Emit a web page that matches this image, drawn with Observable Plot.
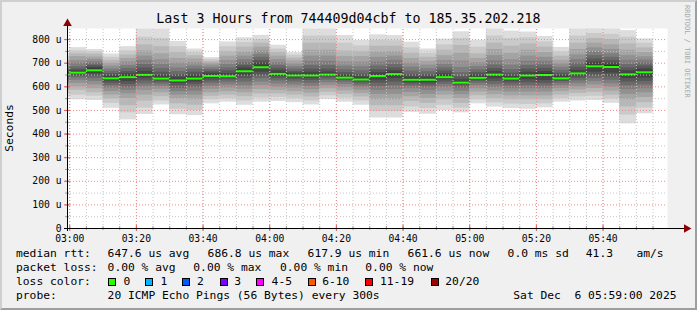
<!DOCTYPE html>
<html><head><meta charset="utf-8">
<script src="https://cdn.jsdelivr.net/npm/d3@7"></script>
<script src="https://cdn.jsdelivr.net/npm/@observablehq/plot@0.6"></script>
<style>
html,body{margin:0;padding:0;background:#f0f0f0;}
#wrap{position:relative;width:697px;height:310px;background:#f0f0f0;overflow:hidden;font-family:"DejaVu Sans Mono",monospace;color:#000;}
#chart svg{position:absolute;left:0;top:0;}
.t{position:absolute;white-space:pre;font-size:11.3px;line-height:14px;}
.box{position:absolute;width:8px;height:8px;box-sizing:border-box;border:1px solid #000;top:278px;}
#border{position:absolute;left:0;top:0;width:697px;height:310px;box-sizing:border-box;border-top:2px solid #cfcfcf;border-left:2px solid #cfcfcf;border-right:2px solid #9e9e9e;border-bottom:2px solid #9e9e9e;pointer-events:none;}
</style>
</head><body>
<div id="wrap">
  <div id="chart"></div>
  <div id="title" class="t" style="font-size:13.3px;left:0;width:697px;text-align:center;top:11px;line-height:16px;"></div>
  <div id="ylab" class="t" style="left:10px;top:128px;transform:translate(-50%,-50%) rotate(-90deg);"></div>
  <div id="wm" class="t" style="left:683px;top:5px;font-size:7px;line-height:8px;writing-mode:vertical-rl;color:#a8a8a8;"></div>
  <div id="legend"></div>
  <div id="border"></div>
</div>
<script>
// ---------- data ----------
const titleText = "Last 3 Hours from 744409d04cbf to 185.35.202.218";
const yLabel = "Seconds";
const watermark = "RRDTOOL / TOBI OETIKER";
const binStarts = ["02:55","03:00","03:05","03:10","03:15","03:20","03:25","03:30","03:35","03:40","03:45","03:50","03:55",
  "04:00","04:05","04:10","04:15","04:20","04:25","04:30","04:35","04:40","04:45","04:50","04:55",
  "05:00","05:05","05:10","05:15","05:20","05:25","05:30","05:35","05:40","05:45","05:50"];
// median rtt per 5-minute bin, microseconds
const medians = [652,660,670,636,641,651,635,627,635,646,645,666,683,
  655,648,648,652,639,631,646,654,630,630,641,617.9,
  638,652,635,648,650,636,657,686.8,684,653,661.6];
// 20 sorted ping times per bin, microseconds
const pingsSorted = [
  [555,570,585,598,610,620,630,638,645,650,655,660,667,675,685,695,705,715,728,740],
  [545,565,585,600,615,628,638,645,652,658,662,668,675,685,700,712,728,740,752,766],
  [542,560,575,592,608,622,635,645,655,665,675,682,690,698,706,716,726,738,748,758],
  [509,530,548,565,580,595,605,615,625,632,640,647,656,666,676,688,700,712,725,739],
  [460,490,520,550,570,585,598,610,622,638,645,655,665,678,690,705,720,735,752,770],
  [483,510,540,565,585,600,612,625,637,648,655,665,680,695,712,730,752,778,810,845],
  [523,540,558,575,590,602,612,620,628,633,638,648,662,678,695,715,740,770,805,845],
  [482,505,528,548,565,580,593,605,615,624,630,640,652,665,680,700,720,745,770,792],
  [478,500,522,545,565,582,597,610,620,632,640,650,662,675,688,702,718,732,746,760],
  [528,545,560,575,590,603,615,625,635,643,650,658,665,673,682,692,700,708,716,724],
  [535,550,565,580,595,608,620,630,638,643,648,656,668,680,695,712,730,750,770,790],
  [522,540,558,575,590,605,620,635,648,662,670,680,690,702,715,730,748,768,788,808],
  [535,553,570,588,605,620,635,648,662,678,688,700,712,725,738,752,768,785,800,818],
  [538,555,570,585,598,612,625,635,645,652,660,668,678,690,702,715,730,745,760,776],
  [533,550,565,580,595,608,620,630,638,645,652,658,665,675,685,697,710,722,734,745],
  [523,540,557,573,588,602,615,627,637,645,652,662,675,690,708,730,755,785,815,845],
  [546,562,577,592,605,617,628,637,644,650,655,663,675,690,708,730,755,785,815,845],
  [535,552,568,583,597,610,620,628,634,638,642,650,660,672,688,706,728,752,785,817],
  [522,540,557,572,586,598,608,617,624,629,634,642,654,668,685,705,728,750,773,796],
  [468,495,520,545,568,585,600,615,628,642,650,660,672,688,705,725,748,772,796,820],
  [468,495,520,545,568,588,605,620,635,650,658,668,680,695,712,730,750,772,795,817],
  [492,515,538,558,576,592,603,612,620,627,634,642,653,667,683,700,720,742,765,789],
  [484,508,530,550,568,585,598,608,617,627,633,642,652,664,677,692,708,725,742,760],
  [500,522,545,565,582,597,610,620,630,638,645,655,667,680,695,712,732,755,778,802],
  [490,510,530,550,567,582,595,605,612,616,621,630,642,660,682,710,742,775,805,833],
  [528,545,562,578,592,605,615,624,631,636,642,650,660,672,686,702,720,740,768,797],
  [514,532,550,567,583,597,610,622,634,648,656,665,677,692,710,732,758,785,815,845],
  [508,527,545,562,578,592,605,616,625,632,638,645,658,673,692,715,742,772,805,836],
  [505,525,545,562,578,592,605,617,630,644,652,662,675,690,708,730,755,782,808,832],
  [511,528,545,562,578,592,604,615,627,645,655,665,678,692,708,725,745,768,790,813],
  [535,550,565,580,593,605,615,623,630,634,640,648,658,670,683,697,712,730,748,767],
  [540,557,572,587,600,613,625,636,645,653,660,670,683,698,715,735,758,785,815,845],
  [542,560,577,593,608,622,635,648,662,680,692,705,718,732,748,765,785,805,826,846],
  [530,548,565,582,598,613,628,642,658,678,690,700,712,725,740,758,778,800,822,845],
  [443,480,515,545,568,588,605,620,635,648,657,668,680,695,712,732,755,782,810,838],
  [486,510,533,555,575,592,608,622,637,655,666,676,688,700,713,727,745,765,785,803]
];
const yTickValues = [0,100,200,300,400,500,600,700,800];
const statsLine1 = [["median rtt:",16],["647.6 us avg",107.6],["686.8 us max",207.6],["617.9 us min",307.6],["661.6 us now",407.6],["0.0 ms sd",507.6],["41.3",585.8],["am/s",636.4]];
const statsLine2 = [["packet loss:",16],["0.00 % avg",107.6],["0.00 % max",193.3],["0.00 % min",280],["0.00 % now",365.3]];
const lossLabels = ["0","1","2","3","4-5","6-10","11-19","20/20"];
const lossColors = ["#26ff00","#00b8ff","#0059ff","#7e00ff","#ff00ff","#ff5500","#ff0000","#a10000"];
const probeLine = [["probe:",16],["20 ICMP Echo Pings (56 Bytes) every 300s",107.6],["Sat Dec  6 05:59:00 2025",513.3]];

// ---------- styles ----------
const smokeGrays = [221,202,183,164,145,126,107,88,69,50];
const lossBoxX = [108.4,145.3,182.2,219.6,256.4,307.6,365.3,430.7];
const lossLabelX = [123.6,160.4,196.9,234.2,271.6,322.2,380,445.3];

// ---------- build ----------
const T = s => { const [h,m] = s.split(":").map(Number); return new Date(Date.UTC(2025,11,6,h,m,0)); };
const xStart = new Date(Date.UTC(2025,11,6,2,59,20));
const xEnd = new Date(Date.UTC(2025,11,6,5,59,20));
const SPP = 18000; // ms per pixel
const UPP = 847/200; // microseconds per pixel
const bins = binStarts.map((s,i) => ({start: T(s), end: new Date(+T(s) + 300000), median: medians[i], pings: pingsSorted[i]}));
const bands = [];
for (let k = 0; k < 10; k++) {
  const g = smokeGrays[k];
  for (const b of bins) bands.push({start: b.start, end: b.end, lo: b.pings[k], hi: b.pings[19-k], color: `rgb(${g},${g},${g})`});
}
const minorX = d3.utcMinute.every(5).range(xStart, xEnd);
const majorX = d3.utcMinute.every(20).range(xStart, xEnd);
const minorY = d3.range(50, 847, 100);
const majorY = yTickValues.filter(v => v > 0);
const fmt = d3.utcFormat("%H:%M");
const gridGray = "#c4c4c4", gridRed = "#f08a8a", arrowCol = "#8b0000";

const chart = Plot.plot({
  width: 697, height: 310,
  marginLeft: 67, marginRight: 30, marginTop: 28, marginBottom: 82,
  style: {background: "transparent", fontFamily: "DejaVu Sans Mono", fontSize: "9.7px", color: "#000", overflow: "visible"},
  x: {type: "utc", domain: [xStart, xEnd], axis: null},
  y: {domain: [0, 847], axis: null},
  color: {type: "identity"},
  marks: [
    Plot.frame({fill: "white", stroke: "none"}),
    Plot.rect(bands, {x1: "start", x2: "end", y1: "lo", y2: "hi", fill: "color", clip: true}),
    Plot.ruleY(bins, {y: "median", x1: "start", x2: "end", stroke: "#26ff00", strokeWidth: 2, clip: true}),
    Plot.ruleX(minorX, {y1: 0, y2: 847, stroke: gridGray, strokeDasharray: "1,2"}),
    Plot.ruleY(minorY, {x1: xStart, x2: xEnd, stroke: gridGray, strokeDasharray: "1,2"}),
    Plot.ruleY(majorY, {x1: xStart, x2: xEnd, stroke: gridRed, strokeDasharray: "1,2"}),
    Plot.ruleX(majorX, {y1: 0, y2: 847, stroke: gridRed, strokeDasharray: "1,2"}),
    // axis tick marks
    Plot.ruleX(minorX, {y1: -2*UPP, y2: 2*UPP, stroke: "#999"}),
    Plot.ruleX(majorX, {y1: -3*UPP, y2: 3*UPP, stroke: "#e06060"}),
    Plot.ruleY(d3.range(50, 847, 50), {x1: new Date(+xStart - 2*SPP), x2: new Date(+xStart + 2*SPP), stroke: "#999"}),
    Plot.ruleY(majorY, {x1: new Date(+xStart - 3*SPP), x2: new Date(+xStart + 3*SPP), stroke: "#e06060"}),
    // axes
    Plot.ruleY([0], {x1: new Date(+xStart - 3*SPP), x2: new Date(+xEnd + 18*SPP), stroke: "#000"}),
    Plot.ruleX([xStart], {y1: -3*UPP, y2: 847 + 4*UPP, stroke: "#000"}),
    Plot.dot([0], {x: new Date(+xEnd + 19*SPP), y: 0, symbol: "triangle", rotate: 90, r: 3.2, fill: arrowCol, stroke: "none"}),
    Plot.dot([0], {x: xStart, y: 847 + 5*UPP, symbol: "triangle", r: 3.2, fill: arrowCol, stroke: "none"}),
    // tick labels
    Plot.text(yTickValues, {x: xStart, y: d => d, text: d => d === 0 ? "0" : d + " u", textAnchor: "end", dx: -6, fill: "#000"}),
    Plot.text(majorX, {x: d => d, y: 0, text: d => fmt(d), dy: 10, fill: "#000"})
  ]
});
document.getElementById("chart").appendChild(chart);

document.getElementById("title").textContent = titleText;
document.getElementById("ylab").textContent = yLabel;
document.getElementById("wm").textContent = watermark;

const legend = document.getElementById("legend");
function addText(txt, x, cy) {
  const d = document.createElement("div");
  d.className = "t"; d.textContent = txt;
  d.style.left = x + "px"; d.style.top = (cy - 7) + "px";
  legend.appendChild(d);
}
statsLine1.forEach(([t,x]) => addText(t, x, 254));
statsLine2.forEach(([t,x]) => addText(t, x, 268));
addText("loss color:", 16, 282);
lossLabels.forEach((l,i) => {
  const b = document.createElement("div");
  b.className = "box"; b.style.left = lossBoxX[i] + "px"; b.style.background = lossColors[i];
  legend.appendChild(b);
  addText(l, lossLabelX[i], 282);
});
probeLine.forEach(([t,x]) => addText(t, x, 296));
</script>
</body></html>
